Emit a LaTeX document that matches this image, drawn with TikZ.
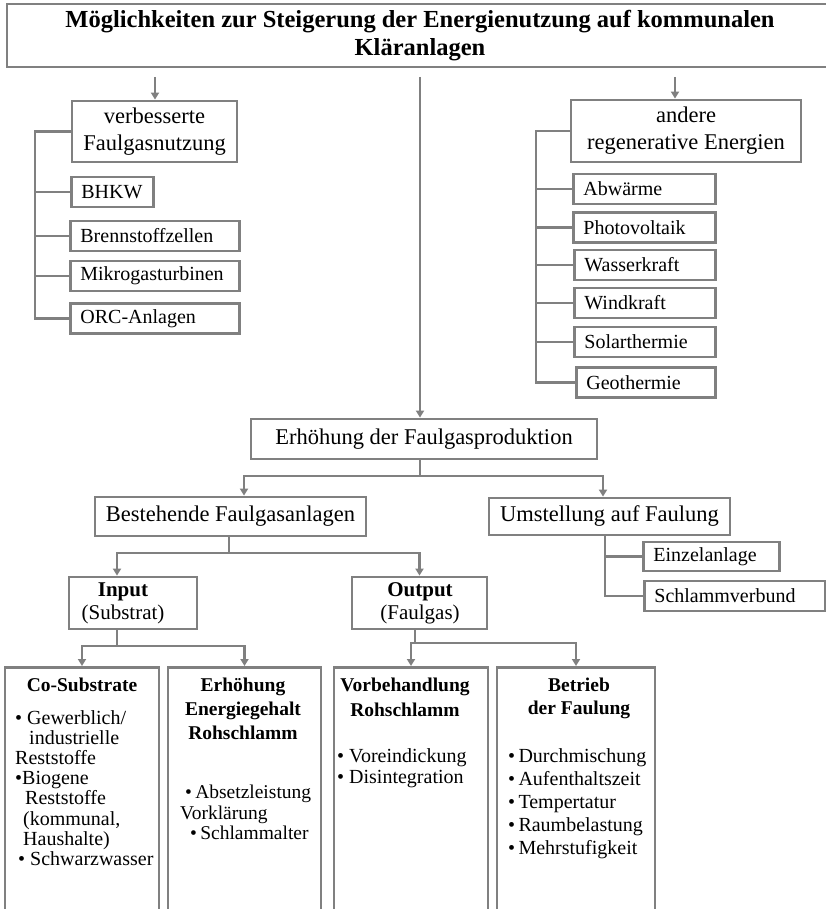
\documentclass[tikz,border=0pt]{standalone}
\usepackage{fontspec}
\setmainfont{Liberation Serif}
\usetikzlibrary{arrows.meta}

\definecolor{linegray}{HTML}{808080}
\newcommand{\fsz}[2]{\fontsize{#1}{#2}\selectfont}

\begin{document}
\begin{tikzpicture}[
        x=1pt, y=-1pt,
        frame/.style={draw=linegray, line width=2.8pt, fill=white, inner sep=0pt},
        bigbox/.style={frame, align=center, font=\fsz{22.5}{27}},
        itembox/.style={frame, anchor=west, align=left, inner xsep=10pt, minimum height=30, font=\fsz{20}{24}},
        colbox/.style={frame, anchor=north, minimum height=280},
        head/.style={anchor=north, align=center, inner sep=0pt, font=\bfseries\fsz{19.5}{24}},
        items/.style={anchor=north west, align=left, inner sep=0pt, font=\fsz{20}{20.2}},
        link/.style={draw=linegray, line width=2.2pt},
        arrow/.style={link, -{Triangle[width=8pt,length=7pt]}}
    ]
        \useasboundingbox (0,0) rectangle (826,909);
        \clip (0,0) rectangle (826,909);

        % Title
        \node[bigbox, minimum width=826, minimum height=63, font=\bfseries\fsz{24.5}{28}] (title) at (420,35.5)
            {Möglichkeiten zur Steigerung der Energienutzung auf kommunalen\\Kläranlagen};

        % Three main branches
        \node[bigbox, minimum width=165, minimum height=61] (fgnutz) at (154.5,131.5) {verbesserte\\Faulgasnutzung};
        \node[bigbox, minimum width=230, minimum height=62] (regen) at (686,131) {andere\\regenerative Energien};
        \node[bigbox, minimum width=346, minimum height=40] (prod) at (424,439) {Erhöhung der Faulgasproduktion};

        \coordinate (tl) at (155,77);
        \coordinate (tm) at (420,77);
        \coordinate (tr) at (675,77);
        \draw[arrow] (tl) -- (tl |- fgnutz.north);
        \draw[arrow] (tr) -- (tr |- regen.north);
        \draw[arrow] (tm) -- (tm |- prod.north);

        % Faulgas use
        \node[itembox, text width=62] (bhkw) at (70,192) {BHKW};
        \node[itembox, text width=149] (bzelle) at (69,236) {Brennstoffzellen};
        \node[itembox, text width=149] (mgt) at (69,276) {Mikrogasturbinen};
        \node[itembox, text width=149] (orc) at (69,318.5) {ORC-Anlagen};

        \coordinate (railL) at (35,0);
        \draw[link] (fgnutz.west) -- (fgnutz.west -| railL) |- (orc.west);
        \foreach \n in {bhkw,bzelle,mgt}
            \draw[link] (\n.west -| railL) -- (\n.west);

        % Other renewables
        \node[itembox, text width=122] (abw) at (572,189) {Abwärme};
        \node[itembox, text width=122] (pv) at (572,227.5) {Photovoltaik};
        \node[itembox, text width=121] (wk) at (573,265) {Wasserkraft};
        \node[itembox, text width=121] (wind) at (573,303) {Windkraft};
        \node[itembox, text width=121] (solar) at (573,342) {Solarthermie};
        \node[itembox, text width=119] (geo) at (575,382.5) {Geothermie};

        \coordinate (railR) at (536,0);
        \draw[link] (regen.west) -- (regen.west -| railR) |- (geo.west);
        \foreach \n in {abw,pv,wk,wind,solar}
            \draw[link] (\n.west -| railR) -- (\n.west);

        % More digester gas
        \node[bigbox, minimum width=271, minimum height=39] (bestand) at (230.5,516.5) {Bestehende Faulgasanlagen};
        \node[bigbox, minimum width=241, minimum height=37] (umst) at (609.5,516.5) {Umstellung auf Faulung};

        \coordinate (jprod) at (420,476);
        \draw[link] (prod.south -| jprod) -- (jprod);
        \draw[arrow] (jprod) -| ([xshift=13.5pt]bestand.north);
        \draw[arrow] (jprod) -| ([xshift=-6.5pt]umst.north);

        \node[itembox, text width=116, minimum height=29] (einzel) at (642,556.5) {Einzelanlage};
        \node[itembox, text width=161] (schlamm) at (643,596) {Schlammverbund};

        \coordinate (railU) at (605,0);
        \draw[link] (umst.south -| railU) |- (schlamm.west);
        \draw[link] (einzel.west -| railU) -- (einzel.west);

        % Input / output
        \node[frame, minimum width=128, minimum height=52] (input) at (133,603) {};
        \node[align=center, inner sep=0pt, font=\fsz{21}{23}] (inputtxt) at (123,603) {\textbf{Input}\\(Substrat)};
        \node[frame, minimum width=135, minimum height=52] (output) at (419.5,603) {};
        \node[align=center, inner sep=0pt, font=\fsz{21}{23}] (outputtxt) at (420,603) {\textbf{Output}\\(Faulgas)};

        \coordinate (jbest) at (229,553);
        \draw[link] (bestand.south -| jbest) -- (jbest);
        \draw[arrow] (jbest) -| ([xshift=-16pt]input.north);
        \draw[arrow] (jbest) -| (output.north);

        % Measures
        \node[colbox, minimum width=154] (cosub) at (82,666) {};
        \node[colbox, minimum width=153] (energie) at (244.5,666) {};
        \node[colbox, minimum width=154] (vorbeh) at (411,666) {};
        \node[colbox, minimum width=158] (betrieb) at (576,666) {};

        \coordinate (jin) at (117,646);
        \draw[link] (input.south -| jin) -- (jin);
        \draw[arrow] (jin) -| (cosub.north);
        \draw[arrow] (jin) -| (energie.north);

        \coordinate (jout) at (415,643);
        \draw[link] (output.south -| jout) -- (jout);
        \draw[arrow] (jout) -| (vorbeh.north);
        \draw[arrow] (jout) -| (betrieb.north);

        \node[head] (cosubH) at (82,678) {Co-Substrate};
        \node[items] (cosubL) at (15,710) {%
            \textbullet\ Gewerblich/\\
            \hspace*{14pt}industrielle\\
            Reststoffe\\
            \textbullet Biogene\\
            \hspace*{10pt}Reststoffe\\
            \hspace*{8pt}(kommunal,\\
            \hspace*{8pt}Haushalte)\\
            \hspace*{3pt}\textbullet\ Schwarzwasser};

        \node[head] (energieH) at (243,678) {Erhöhung\\Energiegehalt\\Rohschlamm};
        \node[items, font=\fsz{19.5}{20.5}] (energieL) at (180,785) {%
            \hspace*{5pt}\textbullet\,Absetzleistung\\
            Vorklärung\\
            \hspace*{10pt}\textbullet\,Schlammalter};

        \node[head, font=\bfseries\fsz{19.5}{25}] (vorbehH) at (405,678) {Vorbehandlung\\Rohschlamm};
        \node[items, font=\fsz{20}{21}] (vorbehL) at (337,748) {%
            \textbullet\ Voreindickung\\
            \textbullet\ Disintegration};

        \node[head, font=\bfseries\fsz{19.5}{23}] (betriebH) at (579,678) {Betrieb\\der Faulung};
        \node[items, font=\fsz{20}{23.2}] (betriebL) at (508,748) {%
            \textbullet\,Durchmischung\\
            \textbullet\,Aufenthaltszeit\\
            \textbullet\,Tempertatur\\
            \textbullet\,Raumbelastung\\
            \textbullet\,Mehrstufigkeit};

    \end{tikzpicture}
\end{document}
